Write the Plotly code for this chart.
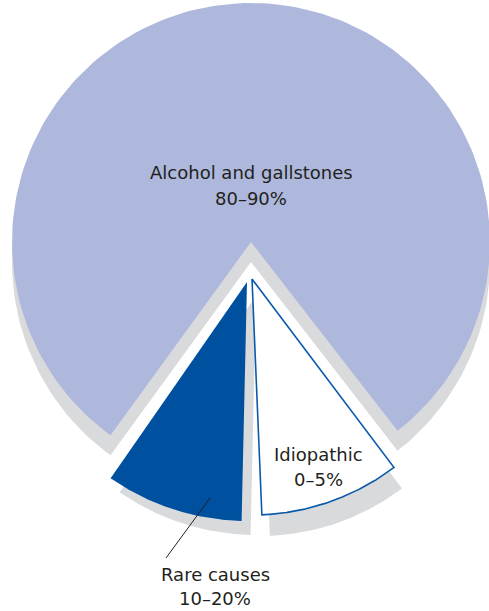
import numpy as np
import plotly.graph_objects as go

# ---- data (as drawn in the picture) ----
labels = ["Rare causes", "Alcohol and gallstones", "Idiopathic"]
range_text = ["10–20%", "80–90%", "0–5%"]
drawn_share = [10.0, 79.5, 10.5]          # slice size as drawn (% of the circle)

# ---- style ----
fill_colors = ["#0050A0", "#AEB8DC", "#FFFFFF"]
edge_colors = ["#0050A0", "#AEB8DC", "#0B5AAA"]
edge_widths = [0, 0, 1.6]
shadow_color = "#D9DADC"
text_color = "#231F20"
FONT = "DejaVu Sans"

W, H = 489, 611
center = (251.0, 242.0)                      # pie centre in pixel axis units
radius = [239.0, 239.0, 236.0]
explode = [(-4.0, 40.0), (0.0, 0.0), (1.0, 37.0)]
pad_start = [1.3, 0.0, 0.8]                  # angular inset at slice start (deg)
pad_end = [1.2, 0.0, 2.4]                    # angular inset at slice end (deg)
shadow_shift = [(9.0, 14.0), (0.0, 20.0), (8.0, 21.0)]


def wedge(cx, cy, r, t0, t1, n=180):
    t = np.radians(np.linspace(t0, t1, n))
    xs = np.concatenate([[cx], cx - r * np.sin(t), [cx]])
    ys = np.concatenate([[cy], cy + r * np.cos(t), [cy]])
    return xs, ys


# angles measured from straight down, increasing towards the left
cum = np.concatenate([[0.0], np.cumsum(drawn_share)]) / sum(drawn_share) * 360.0
geo = []
for i in range(len(labels)):
    t0 = cum[i] + pad_start[i]
    t1 = cum[i + 1] - pad_end[i]
    cx = center[0] + explode[i][0]
    cy = center[1] + explode[i][1]
    geo.append((cx, cy, radius[i], t0, t1))

fig = go.Figure()

# shadows
for i, (cx, cy, r, t0, t1) in enumerate(geo):
    xs, ys = wedge(cx + shadow_shift[i][0], cy + shadow_shift[i][1], r, t0, t1)
    fig.add_trace(go.Scatter(x=xs, y=ys, mode="lines", fill="toself",
                             fillcolor=shadow_color, line=dict(width=0),
                             hoverinfo="skip", showlegend=False))

# slices: main first, then the two exploded ones
for i in [1, 0, 2]:
    cx, cy, r, t0, t1 = geo[i]
    xs, ys = wedge(cx, cy, r, t0, t1)
    fig.add_trace(go.Scatter(x=xs, y=ys, mode="lines", fill="toself",
                             fillcolor=fill_colors[i],
                             line=dict(width=edge_widths[i], color=edge_colors[i]),
                             name=labels[i], hoverinfo="name", showlegend=False))

# labels (two lines each)
label_pos = {0: (215, 586), 1: (251, 185), 2: (318, 467)}
line_gap = [24, 26, 25]
for i in range(len(labels)):
    x, y = label_pos[i]
    for k, txt in enumerate([labels[i], range_text[i]]):
        fig.add_annotation(x=x, y=y + (k - 0.5) * line_gap[i], text=txt,
                           showarrow=False, xanchor="center", yanchor="middle",
                           font=dict(family=FONT, size=18, color=text_color))

# leader line for "Rare causes"
fig.add_shape(type="line", x0=210, y0=498, x1=166, y1=558,
              line=dict(color=text_color, width=1))

fig.update_xaxes(range=[0, W], visible=False, fixedrange=True)
fig.update_yaxes(range=[H, 0], visible=False, fixedrange=True)
fig.update_layout(width=W, height=H,
                  margin=dict(l=0, r=0, t=0, b=0),
                  paper_bgcolor="white", plot_bgcolor="white")

fig.write_html("out.html",
               config={"displayModeBar": False},
               post_script="document.body.style.margin='0';"
                           "document.body.style.overflow='hidden';")
